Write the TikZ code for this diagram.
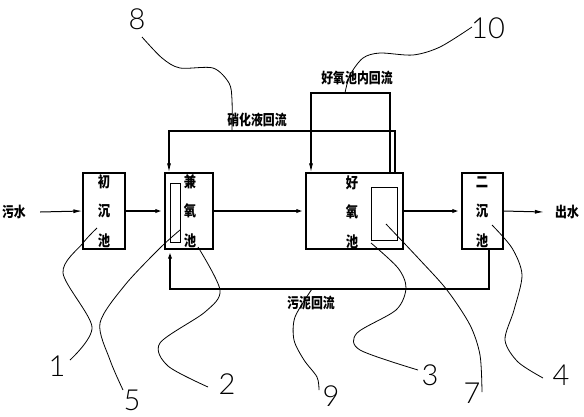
\documentclass[tikz,border=0pt]{standalone}
\usepackage{fontspec}
\usetikzlibrary{arrows.meta,calc}
\newfontfamily\cjk[FakeStretch=0.82]{Noto Sans CJK SC}
\newfontfamily\numfont{Lato}[UprightFont=* Light]
\tikzset{
  tank/.style={draw, line width=1.2pt, inner sep=0pt, minimum height=76pt},
  innerbox/.style={draw, line width=0.9pt, inner sep=0pt},
  boxtxt/.style={font=\cjk\bfseries\fontsize{15}{29.5}\selectfont, align=center, inner sep=0pt},
  lbl/.style={font=\cjk\bfseries\fontsize{14.5}{14.5}\selectfont, inner sep=0pt},
  num/.style={font=\numfont\fontsize{29}{29}\selectfont, inner sep=0pt},
  tip/.style={-{Latex[length=9pt,width=4pt]}},
  flow/.style={line width=1.8pt, tip},
  flowthin/.style={line width=1pt, tip},
  ret/.style={line width=1.1pt, tip},
  sludge/.style={line width=1.8pt, tip},
  lead/.style={line width=0.8pt},
}
\begin{document}
\begin{tikzpicture}[x=1pt,y=-1pt]
\useasboundingbox (0,0) rectangle (584,416);
% tanks
\node[tank, minimum width=42pt] (b1) at (104,211) {};
\node[tank, minimum width=48pt] (b2) at (189,211) {};
\node[tank, minimum width=97pt] (b3) at (354.5,211) {};
\node[tank, minimum width=41pt] (b4) at (482.5,211) {};
\node[innerbox, minimum width=10pt, minimum height=59pt] (i2) at (175,212.5) {};
\node[innerbox, minimum width=26pt, minimum height=53pt] (i3) at (384,213.5) {};
% tank texts
\node[boxtxt] (t1) at (104,211) {初\\沉\\池};
\node[boxtxt] (t2) at (190,211) {兼\\氧\\池};
\node[boxtxt] (t3) at (352,212) {好\\氧\\池};
\node[boxtxt] (t4) at (482,212) {二\\沉\\池};
% in / out
\node[lbl] (in) at (14,212) {污水};
\node[lbl] (out) at (567,212) {出水};
\draw[flowthin] ([xshift=14pt]in.east) -- (b1.west);
\draw[flow] (b1.east) -- (b2.west);
\draw[flow] (b2.east) -- (b3.west);
\draw[flow] (b3.east) -- (b4.west);
\draw[flowthin] (b4.east) -- ([xshift=-11pt]out.west);
% return lines
\coordinate (ny) at (0,131);
\coordinate (iy) at (0,93);
\coordinate (sy) at (0,289);
\draw[ret] ([xshift=40.5pt]b3.north) -- ([xshift=40.5pt]b3.north |- ny) -| ([xshift=-20pt]b2.north);
\draw[line width=1.7pt] ([xshift=-20pt]b2.north |- ny) -- ([xshift=-20pt,yshift=12pt]b2.north);
\draw[ret] ([xshift=35.5pt]b3.north) -- ([xshift=35.5pt]b3.north |- iy) -| ([xshift=-43.5pt]b3.north);
\draw[line width=1.7pt] ([xshift=35.5pt]b3.north |- iy) -- ([xshift=-43.5pt]b3.north |- iy);
\draw[sludge] ([xshift=6.5pt]b4.south) -- ([xshift=6.5pt]b4.south |- sy) -| ([xshift=-19pt]b2.south);
% labels
\node[lbl] (lx) at (257,120) {硝化液回流};
\node[lbl] (ln) at (357,78) {好氧池内回流};
\node[lbl] (ls) at (311,303) {污泥回流};
% numbers
\node[num] (n1) at (57,366) {1};
\node[num] (n2) at (227,384) {2};
\node[num] (n3) at (430,375) {3};
\node[num] (n4) at (561,375) {4};
\node[num] (n5) at (132,400) {5};
\node[num] (n7) at (472,393) {7};
\node[num] (n8) at (137,19) {8};
\node[num] (n9) at (331,396) {9};
\node[num] (n10) at (488,28) {10};
% leader start points
\coordinate (p1) at (97,228);
\coordinate (p2) at (198,247);
\coordinate (p3) at (371,243);
\coordinate (p4) at (492,225);
\coordinate (p5) at (180,230);
\coordinate (p7) at (386,224);
\coordinate (p8) at (232,131);
\coordinate (p9) at (312,289);
\coordinate (p10) at (345,93);
% leaders
\draw[lead] plot[smooth] coordinates {(p1) (83,243) (63,273) (92,327) (70,360)};
\draw[lead] plot[smooth] coordinates {(p5) (160,248) (125,285) (100,323) (110,360) (123,390)};
\draw[lead] plot[smooth] coordinates {(p2) (220,290) (205,312) (160,343) (168,366) (208,387)};
\draw[lead] plot[smooth] coordinates {(p9) (295,317) (294,340) (304,360) (317,377) (319,390)};
\draw[lead] plot[smooth] coordinates {(p3) (398,268) (406,288) (396,310) (357,333) (360,350) (418,370)};
\draw[lead] plot[smooth] coordinates {(p7) (420,260) (447,290) (470,325) (480,355) (482,392)};
\draw[lead] plot[smooth] coordinates {(p4) (512,248) (522,275) (514,310) (505,340) (518,362) (543,378)};
\draw[lead] plot[smooth] coordinates {(142,37) (162,58) (180,68) (213,68) (229,83) (232,100) (p8)};
\draw[lead] plot[smooth] coordinates {(472,27) (440,47) (413,55) (380,53) (363,58) (350,75) (p10)};
\end{tikzpicture}
\end{document}
